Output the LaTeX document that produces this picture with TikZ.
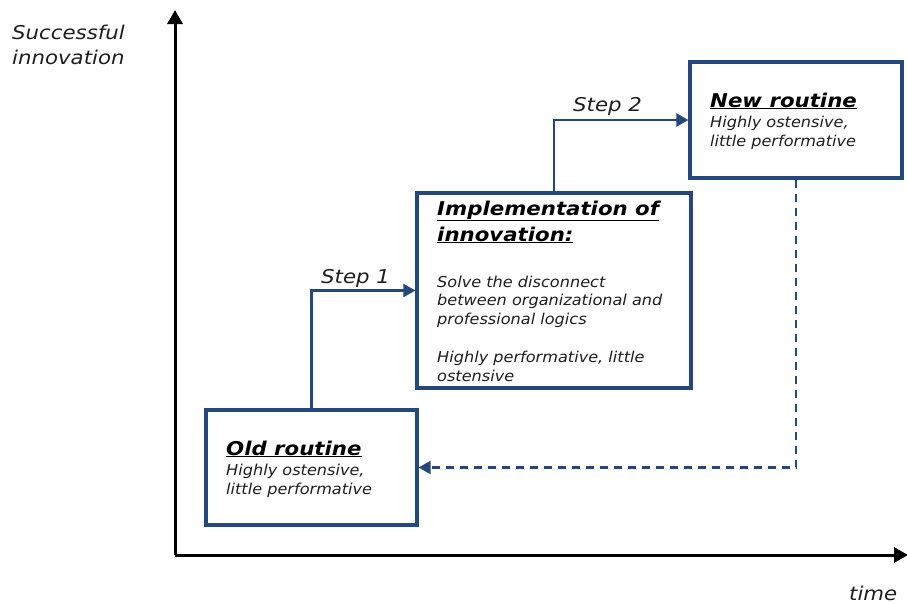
\documentclass[tikz,border=0pt]{standalone}
\usepackage{fontspec}
\setmainfont{DejaVu Sans}
\newfontfamily\boxfont{DejaVu Sans}[FakeStretch=1.075]
\newfontfamily\titlefont{DejaVu Sans}[FakeStretch=1.12]
\newfontfamily\labelfont{DejaVu Sans}[FakeStretch=1.12]
\usetikzlibrary{arrows.meta}
\definecolor{routineblue}{RGB}{36,72,125}
\definecolor{bodygray}{RGB}{30,30,30}
\begin{document}
\begin{tikzpicture}[x=1pt,y=-1pt,
  box/.style={draw=routineblue, line width=3.2pt, fill=white, inner sep=0pt},
  flow/.style={draw=routineblue, line width=2.2pt, -{Triangle[length=12pt,width=13pt]}},
  axis/.style={line width=3pt, -{Triangle[length=14pt,width=15pt]}},
  title/.style={anchor=base west, inner sep=0pt, font=\titlefont\fontsize{19}{22}\selectfont\bfseries\itshape},
  body/.style={anchor=base west, inner sep=0pt, text=bodygray, font=\boxfont\fontsize{15}{19}\selectfont\itshape},
  lbl/.style={anchor=base west, inner sep=0pt, text=bodygray, font=\labelfont\fontsize{19}{22}\selectfont\itshape}
]
\useasboundingbox (0,0) rectangle (907,603);

% axes
\coordinate (origin) at (175,555);
\coordinate (ytip) at (175,10);
\coordinate (xtip) at (908,555);
\draw[axis] (origin) -- (ytip);
\draw[axis] (origin) -- (xtip);
\node[lbl] (ylab1) at (12,39) {Successful};
\node[lbl] (ylab2) at (12,64) {innovation};
\node[lbl] (xlab) at (849,600) {time};

% boxes
\node[box, minimum width=211pt, minimum height=115pt] (old) at (311.5,467.5) {};
\node[box, minimum width=274pt, minimum height=195pt] (impl) at (554,290.5) {};
\node[box, minimum width=212pt, minimum height=116pt] (new) at (796,120) {};

% box texts
\node[title] (oldt) at (226,455) {\underline{Old routine}};
\node[body] (oldb1) at (226,475) {Highly ostensive,};
\node[body] (oldb2) at (226,494) {little performative};

\node[title] (implt1) at (437,215) {\underline{Implementation of}};
\node[title] (implt2) at (437,241) {\underline{innovation:}};
\node[body] (implb1) at (437,287) {Solve the disconnect};
\node[body] (implb2) at (437,305) {between organizational and};
\node[body] (implb3) at (437,324) {professional logics};
\node[body] (implb4) at (437,362) {Highly performative, little};
\node[body] (implb5) at (437,381) {ostensive};

\node[title] (newt) at (710,107) {\underline{New routine}};
\node[body] (newb1) at (710,127) {Highly ostensive,};
\node[body] (newb2) at (710,146) {little performative};

% transitions
\draw[flow] (old.north) |- (impl.west);
\node[lbl] (step1) at (321,283) {Step 1};
\draw[flow] (impl.north) |- (new.west);
\node[lbl] (step2) at (573,111) {Step 2};
\draw[flow, dashed, dash pattern=on 8pt off 6pt] (new.south) |- (old.east);
\end{tikzpicture}
\end{document}
